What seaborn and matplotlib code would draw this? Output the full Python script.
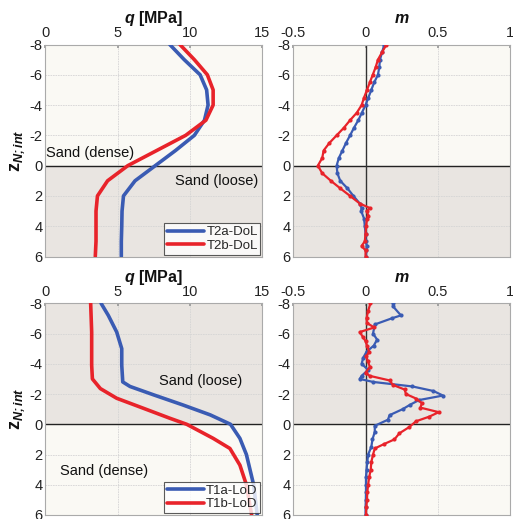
import matplotlib
matplotlib.use("Agg")
import matplotlib.pyplot as plt
import seaborn as sns
import pandas as pd
import numpy as np

sns.set_theme(style="white")
plt.rcParams['font.family'] = ['Liberation Sans', 'DejaVu Sans']
plt.rcParams['axes.unicode_minus'] = False
plt.rcParams['mathtext.fontset'] = 'custom'
plt.rcParams['mathtext.rm'] = 'Liberation Sans'
plt.rcParams['mathtext.it'] = 'Liberation Sans:italic'
plt.rcParams['mathtext.bf'] = 'Liberation Sans:bold'
plt.rcParams['mathtext.bfit'] = 'Liberation Sans:bold:italic'

# ---------------- data ----------------
z_q = [-8, -7, -6, -5, -4, -3, -2, -1, 0, 1, 2, 3, 4, 5, 6]
q_T2a = [8.6, 9.6, 10.7, 11.15, 11.25, 11.0, 10.3, 9.0, 7.6, 6.2, 5.4, 5.3, 5.28, 5.25, 5.25]
q_T2b = [9.3, 10.3, 11.2, 11.6, 11.6, 11.1, 9.7, 7.7, 5.7, 4.3, 3.6, 3.5, 3.5, 3.5, 3.45]

z_q1a = [-8, -7.2, -6.1, -5, -3.9, -2.8, -2.5, -1.94, -1.28, -0.62, 0, 0.93, 2, 4, 6]
q_T1a = [3.85, 4.35, 4.93, 5.28, 5.28, 5.35, 5.85, 7.5, 9.5, 11.4, 12.8, 13.45, 13.9, 14.4, 14.65]
z_q1b = [-8, -6.1, -3.9, -3, -2.36, -1.72, -1.06, -0.4, 0, 0.93, 1.6, 2.7, 4, 6]
q_T1b = [3.13, 3.2, 3.2, 3.25, 3.8, 4.93, 6.77, 8.6, 9.77, 11.6, 12.76, 13.45, 13.9, 14.26]

z_m2a = [-8, -7.5, -7, -6.5, -6, -5.5, -5, -4.5, -4, -3.5, -3, -2.5, -2, -1.5, -1, -0.5,
         0, 0.5, 1, 1.5, 2, 2.5, 2.8, 3, 3.5, 4, 4.5, 5, 5.3, 5.6, 6]
m_T2a = [0.13, 0.115, 0.10, 0.095, 0.086, 0.06, 0.04, 0.02, 0.0, -0.025, -0.05, -0.08, -0.107,
         -0.135, -0.16, -0.185, -0.2, -0.195, -0.175, -0.125, -0.084, -0.04, -0.027, -0.03,
         -0.01, -0.005, 0.0, 0.0, 0.01, 0.005, 0.003]
z_m2b = [-8, -7.5, -7, -6.5, -6, -5.5, -5, -4.5, -4, -3.5, -3, -2.5, -2, -1.5, -1, -0.5,
         0, 0.5, 1, 1.5, 2, 2.5, 2.8, 3, 3.3, 3.5, 4, 4.5, 5, 5.3, 5.6, 6]
m_T2b = [0.145, 0.115, 0.086, 0.07, 0.05, 0.03, 0.01, -0.01, -0.027, -0.06, -0.107, -0.15, -0.2,
         -0.25, -0.29, -0.3, -0.33, -0.3, -0.24, -0.175, -0.107, -0.04, 0.03, 0.007, 0.02,
         0.01, 0.004, 0.0, -0.005, -0.027, 0.0, 0.0]

z_m1a = [-8, -7.8, -7.2, -7, -6.6, -6, -5.6, -5.2, -4.8, -4.4, -4, -3.6, -3.2, -3, -2.8,
         -2.5, -2.2, -1.9, -1.6, -1.3, -1, -0.6, -0.3, 0.1, 0.5, 1, 1.5, 2, 2.5, 3, 3.5,
         4, 4.5, 5, 5.5, 6]
m_T1a = [0.19, 0.19, 0.245, 0.18, 0.064, 0.052, 0.08, 0.057, 0.007, -0.016, -0.027, 0.018,
         -0.027, -0.04, 0.052, 0.325, 0.47, 0.536, 0.37, 0.31, 0.257, 0.166, 0.155, 0.064,
         0.064, 0.048, 0.04, 0.018, 0.012, 0.007, 0.003, 0.003, 0.003, 0.002, 0.0, 0.0]
z_m1b = [-8, -7.5, -7, -6.7, -6.4, -6.1, -5.8, -5.5, -5.2, -4.8, -4.5, -4.2, -3.8, -3.4,
         -3.2, -2.9, -2.6, -2.3, -2, -1.7, -1.4, -1.1, -0.8, -0.5, -0.2, 0.2, 0.6, 1, 1.3,
         1.6, 2, 2.5, 3, 3.5, 4, 4.5, 5, 5.5, 6]
m_T1b = [0.034, 0.018, 0.007, 0.01, 0.06, -0.04, -0.02, 0.0, 0.01, 0.025, 0.005, 0.015, 0.03,
         0.0, 0.03, 0.166, 0.19, 0.27, 0.28, 0.35, 0.39, 0.38, 0.507, 0.44, 0.35, 0.30, 0.234,
         0.2, 0.13, 0.064, 0.052, 0.04, 0.036, 0.025, 0.018, 0.012, 0.01, 0.005, 0.003]

BLUE = "#3A5BB3"
RED = "#E8232A"
IVORY = "#FAF9F4"
BEIGE = "#E9E5E1"
TXT = "#222222"

W, H = 513, 519
fig = plt.figure(figsize=(W / 100, H / 100), dpi=100)

def frac(l, r, t, b):
    return [l / W, 1 - b / H, (r - l) / W, (b - t) / H]

ax_tl = fig.add_axes(frac(45.4, 262.3, 44.5, 256.5))
ax_tr = fig.add_axes(frac(293.3, 510, 44.5, 256.5))
ax_bl = fig.add_axes(frac(45.4, 262.3, 303.3, 515))
ax_br = fig.add_axes(frac(293.3, 510, 303.3, 515))

ZLAB = r'$\mathbf{z}_{\mathbfit{N;int}}$'
qlab = r'$\mathbfit{q}$ [MPa]'
mlab = r'$\mathbfit{m}$'

def style(ax, xlim, xticks, xticklabels, upper_col, lower_col, xlabel, ylabel=True):
    ax.set_ylim(6, -8)
    ax.set_xlim(*xlim)
    ax.axhspan(-8, 0, color=upper_col, zorder=0)
    ax.axhspan(0, 6, color=lower_col, zorder=0)
    ax.set_facecolor("white")
    ax.xaxis.tick_top()
    ax.xaxis.set_label_position("top")
    ax.set_xticks(xticks)
    ax.set_xticklabels(xticklabels)
    ax.set_yticks([-8, -6, -4, -2, 0, 2, 4, 6])
    ax.tick_params(axis="both", labelsize=10.5, length=2, direction="in", color="#999999",
                   pad=2, labelcolor=TXT)
    ax.tick_params(axis="x", pad=3)
    ax.grid(True, color="#D5D5D5", linewidth=0.6, linestyle=(0, (2, 1)), zorder=0.5)
    for s in ax.spines.values():
        s.set_color("#AAAAAA")
        s.set_linewidth(0.8)
    ax.axhline(0, color="#222222", linewidth=1.0, zorder=1)
    ax.set_xlabel(xlabel, fontsize=11.5, fontweight="bold", labelpad=2.5, color="#111111")
    if ylabel:
        ax.set_ylabel(ZLAB, fontsize=13, labelpad=2, color="#111111")
    else:
        ax.set_ylabel("")

def legend(ax):
    leg = ax.legend(loc="lower right", fontsize=9.5, frameon=True, fancybox=False,
                    borderpad=0.2, handlelength=2.8, handletextpad=0.2, labelspacing=0.1,
                    borderaxespad=0.15)
    leg.get_frame().set_edgecolor("#333333")
    leg.get_frame().set_linewidth(0.8)

# top-left
style(ax_tl, (0, 15), [0, 5, 10, 15], ["0", "5", "10", "15"], IVORY, BEIGE, qlab)
df = pd.DataFrame({"z": z_q * 2, "q": q_T2a + q_T2b,
                   "s": ["T2a-DoL"] * len(z_q) + ["T2b-DoL"] * len(z_q)})
sns.lineplot(data=df, x="q", y="z", hue="s", palette=[BLUE, RED], sort=False,
             orient="y", linewidth=2.6, ax=ax_tl, zorder=3)
ax_tl.set_ylabel(ZLAB, fontsize=13, labelpad=2, color="#111111")
ax_tl.set_xlabel(qlab, fontsize=11.5, fontweight="bold", labelpad=2.5)
ax_tl.text(0.05, -0.35, "Sand (dense)", fontsize=10.5, color="#111111", va="bottom")
ax_tl.text(14.7, 0.55, "Sand (loose)", fontsize=10.5, color="#111111", va="top", ha="right")
legend(ax_tl)

# top-right
style(ax_tr, (-0.5, 1), [-0.5, 0, 0.5, 1], ["-0.5", "0", "0.5", "1"], IVORY, BEIGE, mlab, ylabel=False)
ax_tr.axvline(0, color="#333333", linewidth=1.0, zorder=1)
sns.lineplot(x=m_T2a, y=z_m2a, sort=False, orient="y", color=BLUE, linewidth=1.6,
             marker="o", markersize=3, markeredgewidth=0, ax=ax_tr, zorder=3)
sns.lineplot(x=m_T2b, y=z_m2b, sort=False, orient="y", color=RED, linewidth=1.6,
             marker="o", markersize=3, markeredgewidth=0, ax=ax_tr, zorder=4)
ax_tr.set_ylim(6, -8)

# bottom-left
style(ax_bl, (0, 15), [0, 5, 10, 15], ["0", "5", "10", "15"], BEIGE, IVORY, qlab)
df2 = pd.DataFrame({"z": z_q1a + z_q1b, "q": q_T1a + q_T1b,
                    "s": ["T1a-LoD"] * len(z_q1a) + ["T1b-LoD"] * len(z_q1b)})
sns.lineplot(data=df2, x="q", y="z", hue="s", palette=[BLUE, RED], sort=False,
             orient="y", linewidth=2.6, ax=ax_bl, zorder=3)
ax_bl.set_ylabel(ZLAB, fontsize=13, labelpad=2, color="#111111")
ax_bl.set_xlabel(qlab, fontsize=11.5, fontweight="bold", labelpad=2.5)
ax_bl.text(13.6, -2.85, "Sand (loose)", fontsize=10.5, color="#111111", va="center", ha="right")
ax_bl.text(1.0, 3.1, "Sand (dense)", fontsize=10.5, color="#111111", va="center", ha="left")
legend(ax_bl)

# bottom-right
style(ax_br, (-0.5, 1), [-0.5, 0, 0.5, 1], ["-0.5", "0", "0.5", "1"], BEIGE, IVORY, mlab, ylabel=False)
ax_br.axvline(0, color="#333333", linewidth=1.0, zorder=1)
sns.lineplot(x=m_T1a, y=z_m1a, sort=False, orient="y", color=BLUE, linewidth=1.6,
             marker="o", markersize=3, markeredgewidth=0, ax=ax_br, zorder=3)
sns.lineplot(x=m_T1b, y=z_m1b, sort=False, orient="y", color=RED, linewidth=1.6,
             marker="o", markersize=3, markeredgewidth=0, ax=ax_br, zorder=4)
ax_br.set_ylim(6, -8)

for ax in [ax_tr, ax_br]:
    ax.set_ylabel("")

fig.savefig("out.png", dpi=100)
